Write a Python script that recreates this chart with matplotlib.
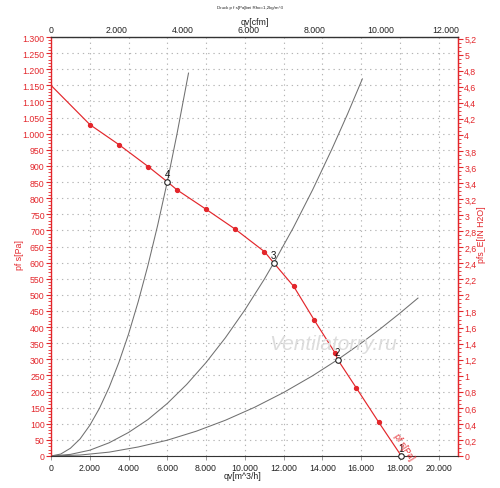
import matplotlib
matplotlib.use("Agg")
import matplotlib.pyplot as plt
import numpy as np
from matplotlib.ticker import MultipleLocator, FuncFormatter

plt.rcParams['font.family'] = ['Liberation Sans', 'DejaVu Sans']

# --- data ---
fan_q = [0, 2010, 3505, 5015, 5997, 6495, 7990, 9500, 11015, 11495, 12526,
         13590, 14655, 14794, 15756, 16907, 18077]
fan_p = [1150, 1028, 966, 898, 851, 826, 766, 704, 634, 599, 526,
         421, 320, 299, 211, 105, 0]
marker_q = [2010, 3505, 5015, 6495, 7990, 9500, 11015, 12526, 13590, 14655, 15756, 16907]
marker_p = [1028, 966, 898, 826, 766, 704, 634, 526, 421, 320, 211, 105]

sysA_q = [0, 500, 1000, 1500, 2000, 2500, 3000, 3500, 4000, 4500, 5000, 5500, 6000, 6500, 7095]
sysA_p = [0, 6, 24, 53, 95, 148, 213, 290, 378, 479, 591, 715, 851, 999, 1188]
sysB_q = [0, 1000, 2000, 3000, 4000, 5000, 6000, 7000, 8000, 9000, 10000, 11000,
          11495, 12500, 13500, 14500, 15300, 16065]
sysB_p = [0, 5, 18, 41, 73, 113, 163, 222, 290, 367, 453, 548,
          599, 708, 826, 953, 1061, 1170]
sysC_q = [0, 1500, 3000, 4500, 6000, 7500, 9000, 10500, 12000, 13500, 14794,
          16000, 17000, 18000, 18935]
sysC_p = [0, 3, 12, 28, 49, 77, 111, 151, 197, 249, 299,
          350, 395, 443, 490]

op_q = [18077, 14794, 11495, 5997]
op_p = [0, 299, 599, 851]
op_labels = ["1", "2", "3", "4"]

x_ticks = [0, 2000, 4000, 6000, 8000, 10000, 12000, 14000, 16000, 18000, 20000]
cfm_ticks = [0, 2000, 4000, 6000, 8000, 10000, 12000]

RED = '#e3262b'
GRAY = '#707070'
M3H_PER_CFM = 1.699
PA_PER_INH2O = 249.089

W, H = 500, 489
fig = plt.figure(figsize=(W / 100, H / 100), dpi=100)
ax = fig.add_axes([51 / W, 1 - 457 / H, (458 - 51) / W, (457 - 38) / H])

ax.set_xlim(0, 21000)
ax.set_ylim(0, 1300)

# grid
ax.set_xticks(x_ticks)
ax.yaxis.set_major_locator(MultipleLocator(50))
ax.yaxis.set_minor_locator(MultipleLocator(10))
ax.grid(True, which='major', color='#b5b5b5', linestyle=(0, (1.2, 3.5)), linewidth=0.8)
ax.set_axisbelow(True)

# system curves
for q, p in [(sysA_q, sysA_p), (sysB_q, sysB_p), (sysC_q, sysC_p)]:
    ax.plot(q, p, color=GRAY, lw=0.75, zorder=2)

# fan curve
ax.plot(fan_q, fan_p, color=RED, lw=0.85, zorder=3)
ax.plot(marker_q, marker_p, 'o', color=RED, ms=2.8, zorder=4, clip_on=False)

# operating points
ax.plot(op_q, op_p, 'o', mfc='white', mec='#222222', mew=0.8, ms=4.0, zorder=5, clip_on=False)
for q, p, lab in zip(op_q, op_p, op_labels):
    ax.annotate(lab, (q, p), xytext=(0, 2.0), textcoords='offset points',
                ha='center', va='bottom', fontsize=7, color='#111111', zorder=6)

# curve label
ax.text(17620, 62, 'pf s[Pa]', rotation=-57, rotation_mode='anchor', color=RED,
        fontsize=6.3, ha='left', va='bottom', zorder=6)

# spines
for s in ['left', 'right']:
    ax.spines[s].set_color(RED)
    ax.spines[s].set_linewidth(1.0)
ax.spines['bottom'].set_color('#333333')
ax.spines['top'].set_color('#333333')
ax.spines['top'].set_linewidth(1.0)

fmt_thousands = FuncFormatter(lambda v, pos: f"{int(round(v)):,}".replace(',', '.'))
ax.xaxis.set_major_formatter(fmt_thousands)
ax.yaxis.set_major_formatter(fmt_thousands)
ax.tick_params(axis='x', which='major', labelsize=6.3, colors='#222222', length=3,
               width=0.6, pad=2, color='#888888')
ax.tick_params(axis='y', which='major', labelsize=6.3, labelcolor=RED, color=RED,
               length=3.5, width=0.8, pad=1)
ax.tick_params(axis='y', which='minor', color=RED, length=2, width=0.6)

ax.set_xlabel('qv[m^3/h]', fontsize=6.3, color='#222222')
ax.xaxis.set_label_coords(0.47, -0.035)

# top axis in cfm
top = ax.secondary_xaxis('top', functions=(lambda q: q / M3H_PER_CFM, lambda c: c * M3H_PER_CFM))
top.set_xticks(cfm_ticks)
top.xaxis.set_major_formatter(fmt_thousands)
top.tick_params(labelsize=6.3, colors='#222222', length=0, pad=2)
top.set_xlabel('qv[cfm]', fontsize=6.3, color='#222222', labelpad=1)
top.spines['top'].set_visible(False)

# right axis in inH2O
right = ax.secondary_yaxis('right', functions=(lambda p: p / PA_PER_INH2O, lambda v: v * PA_PER_INH2O))
right.yaxis.set_major_locator(MultipleLocator(0.2))
right.yaxis.set_minor_locator(MultipleLocator(0.05))
right.yaxis.set_major_formatter(FuncFormatter(lambda v, pos: (f"{v:.1f}".rstrip('0').rstrip('.')).replace('.', ',') if abs(v) > 1e-9 else '0'))
right.tick_params(which='major', labelsize=6.3, labelcolor=RED, color=RED, length=3.5, width=0.8, pad=1)
right.tick_params(which='minor', color=RED, length=2, width=0.6)
right.spines['right'].set_color(RED)

# axis labels (placed as in the reference)
fig.text(20 / W, 1 - 255 / H, 'pf s[Pa]', rotation=90, fontsize=6.3, color=RED,
         ha='center', va='center')
fig.text(482 / W, 1 - 235 / H, 'pfs_E[IN H2O]', rotation=90, fontsize=6.3, color=RED,
         ha='center', va='center')

# title
fig.text(250 / W, 1 - 8 / H, 'Druck p f s[Pa]bei Rho=1,2kg/m^3', fontsize=3.2,
         ha='center', va='center', color='#222222')

# watermark
fig.text(333 / W, 1 - 345 / H, 'Ventilatorry.ru', fontsize=15, style='italic',
         ha='center', va='center', color='#dcdcdc', zorder=0)

fig.savefig('out.png', dpi=100)
